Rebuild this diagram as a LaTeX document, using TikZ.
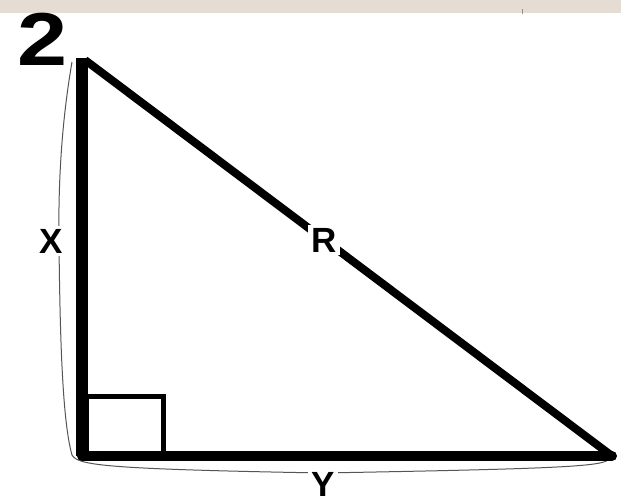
\documentclass[tikz,border=0pt]{standalone}
\usepackage{fontspec}
\setmainfont{Liberation Sans}
\definecolor{band}{HTML}{E5DCD4}
\definecolor{bracegray}{HTML}{555555}
\definecolor{tickcol}{HTML}{A08C78}
\begin{document}
\begin{tikzpicture}[x=1pt,y=-1pt,
  side/.style={draw=black},
  bracepath/.style={draw=bracegray,line width=1pt},
  lbl/.style={font=\fontsize{35}{35}\selectfont\bfseries,fill=white,inner sep=3pt},
  bignum/.style={font=\fontsize{75}{75}\selectfont\bfseries,inner sep=0pt,anchor=base west,xscale=1.2}]
\useasboundingbox (0,0) rectangle (621,498);
\fill[white] (0,0) rectangle (621,498);
\fill[band] (0,0) rectangle (621,13);
\draw[tickcol,line width=0.8pt] (522,9) -- (522,14);
% corners
\coordinate (A) at (82,58);
\coordinate (Ah) at (85,60);
\coordinate (B) at (82,456);
\coordinate (C) at (612,456);
% braces
\draw[bracepath] (72,62) .. controls (62,120) and (58,180) .. (59,245)
  .. controls (60,330) and (62,420) .. (72,455)
  .. controls (78,465) and (100,469) .. (323,473)
  .. controls (540,469) and (600,467) .. (608,460);
% right angle square
\draw[side,line width=5pt] (86,396.5) rectangle (163,454);
% sides
\draw[side,line width=12pt] (A) -- (B);
\draw[side,line width=10pt,line cap=round] (B) -- (C);
\draw[side,line width=8pt] (Ah) -- (C);
% labels
\node[lbl] (R) at (324,240) {R};
\node[lbl] (X) at (51,241) {X};
\node[lbl] (Y) at (323,484) {Y};
\node[bignum] (two) at (17,65) {2};
\end{tikzpicture}
\end{document}
